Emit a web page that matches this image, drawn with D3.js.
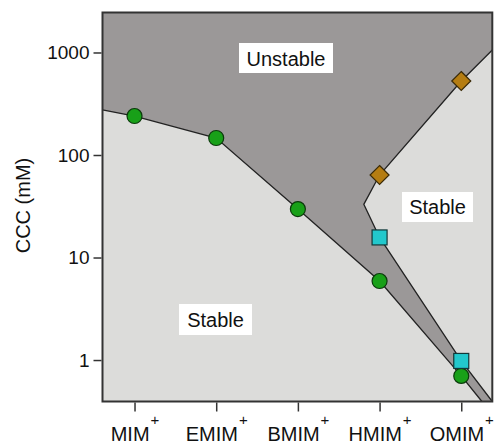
<!DOCTYPE html>
<html>
<head>
<meta charset="utf-8">
<script src="https://cdn.jsdelivr.net/npm/d3@7"></script>
<style>
  html, body { margin: 0; padding: 0; background: #fff; }
  svg { display: block; font-family: "Liberation Sans", Arial, sans-serif; }
</style>
</head>
<body>
<svg id="chart" width="497" height="443"></svg>
<script>
// ---------- data ----------
const categories = ["MIM", "EMIM", "BMIM", "HMIM", "OMIM"];
const circleCCC  = [240, 146.5, 29.7, 5.9, 0.70];     // green circles
const squareCCC  = [null, null, null, 15.7, 0.98];    // cyan squares
const diamondCCC = [null, null, null, 63.8, 527];     // brown diamonds
const yTickValues = [1, 10, 100, 1000];

// boundary end points (category index, CCC) where lines meet the frame / kink
const lowerStart = [-0.392, 275];
const lowerEnd   = [4.253, 0.394];
const upperTop   = [4.38, 1058];
const upperKink  = [2.807, 33.0];
const upperEnd   = [4.38, 0.394];

const xDomain = [-0.392, 4.38];
const yDomain = [0.394, 2455];

// ---------- layout ----------
const W = 497, H = 443;
const margin = { left: 102.5, top: 12.5, right: 4.7, bottom: 41.5 };
const svg = d3.select("#chart");

const x = d3.scaleLinear().domain(xDomain).range([margin.left, W - margin.right]);
const y = d3.scaleLog().domain(yDomain).range([H - margin.bottom, margin.top]);

const x0 = x.range()[0], x1 = x.range()[1], yb = y.range()[0], yt = y.range()[1];
const textColor = "#111";

// background (stable)
svg.append("rect").attr("x", x0).attr("y", yt).attr("width", x1 - x0).attr("height", yb - yt)
  .attr("fill", "#dcdcda");

// boundary point lists
const lowerPts = [lowerStart].concat(circleCCC.map((v, i) => [i, v])).concat([lowerEnd]);
const upperPts = [upperTop]
  .concat(diamondCCC.map((v, i) => [i, v]).filter(d => d[1] != null).reverse())
  .concat([upperKink])
  .concat(squareCCC.map((v, i) => [i, v]).filter(d => d[1] != null))
  .concat([upperEnd]);

// unstable polygon
const polyPts = [[xDomain[0], yDomain[1]], [xDomain[1], yDomain[1]]]
  .concat(upperPts)
  .concat(lowerPts.slice().reverse());
const lineGen = d3.line().x(d => x(d[0])).y(d => y(d[1]));
svg.append("path").attr("d", lineGen(polyPts) + "Z").attr("fill", "#9b9898");

// boundary lines
svg.append("path").attr("d", lineGen(lowerPts)).attr("fill", "none")
  .attr("stroke", "#222").attr("stroke-width", 1.3);
svg.append("path").attr("d", lineGen(upperPts)).attr("fill", "none")
  .attr("stroke", "#222").attr("stroke-width", 1.3);

// markers
svg.append("g").selectAll("circle").data(circleCCC.map((v, i) => [i, v]).filter(d => d[1] != null))
  .join("circle")
  .attr("cx", d => x(d[0])).attr("cy", d => y(d[1])).attr("r", 7.5)
  .attr("fill", "#18a018").attr("stroke", "#0b3a0b").attr("stroke-width", 1.2);

svg.append("g").selectAll("rect").data(squareCCC.map((v, i) => [i, v]).filter(d => d[1] != null))
  .join("rect")
  .attr("x", d => x(d[0]) - 7.5).attr("y", d => y(d[1]) - 7.5)
  .attr("width", 15).attr("height", 15)
  .attr("fill", "#22c8cc").attr("stroke", "#123838").attr("stroke-width", 1.2);

const dsz = 9.5;
svg.append("g").selectAll("path").data(diamondCCC.map((v, i) => [i, v]).filter(d => d[1] != null))
  .join("path")
  .attr("d", d => {
    const cx = x(d[0]), cy = y(d[1]);
    return `M${cx},${cy - dsz}L${cx + dsz},${cy}L${cx},${cy + dsz}L${cx - dsz},${cy}Z`;
  })
  .attr("fill", "#b57d12").attr("stroke", "#3a2a08").attr("stroke-width", 1.2);

// region labels
const labels = [
  { text: "Unstable", cx: 286, base: 65.5, bx: 239, by: 43, bw: 94, bh: 30 },
  { text: "Stable",   cx: 437.5, base: 213.5, bx: 402, by: 192, bw: 71, bh: 30 },
  { text: "Stable",   cx: 215.5, base: 326.5, bx: 179, by: 304, bw: 73, bh: 31 }
];
const lg = svg.append("g");
labels.forEach(l => {
  lg.append("rect").attr("x", l.bx).attr("y", l.by).attr("width", l.bw).attr("height", l.bh)
    .attr("fill", "#fff");
  lg.append("text").attr("x", l.cx).attr("y", l.base).attr("text-anchor", "middle")
    .attr("font-size", 20).attr("fill", textColor).text(l.text);
});

// frame
svg.append("rect").attr("x", x0).attr("y", yt).attr("width", x1 - x0).attr("height", yb - yt)
  .attr("fill", "none").attr("stroke", "#333").attr("stroke-width", 2);

// y axis
const yAxis = svg.append("g").attr("transform", `translate(${x0 - 1},0)`)
  .call(d3.axisLeft(y).tickValues(yTickValues).tickFormat(d3.format("d")).tickSize(8).tickPadding(4));
yAxis.select(".domain").remove();
yAxis.selectAll("line").attr("stroke", "#333").attr("stroke-width", 1.5);
yAxis.selectAll("text").attr("font-size", 19).attr("fill", textColor)
  .attr("font-family", "Liberation Sans, Arial, sans-serif");

// x axis
const xAxis = svg.append("g").attr("transform", `translate(0,${yb + 1})`)
  .call(d3.axisBottom(x).tickValues(d3.range(categories.length)).tickFormat(() => "").tickSize(9));
xAxis.select(".domain").remove();
xAxis.selectAll("line").attr("stroke", "#333").attr("stroke-width", 1.5);
xAxis.selectAll(".tick text").each(function(d) {
  const t = d3.select(this);
  t.text(null).attr("y", 0).attr("dy", 0).attr("transform", "translate(0,38)")
    .attr("font-size", 20).attr("fill", textColor).attr("text-anchor", "middle")
    .attr("font-family", "Liberation Sans, Arial, sans-serif");
  t.append("tspan").text(categories[d]);
  t.append("tspan").attr("dy", -16).attr("dx", 1).attr("font-size", 15)
    .attr("fill", textColor).text("+");
});

// y label
svg.append("text").attr("transform", "translate(29.5,205.5) rotate(-90)")
  .attr("text-anchor", "middle").attr("font-size", 20).attr("fill", textColor).text("CCC (mM)");
</script>
</body>
</html>
